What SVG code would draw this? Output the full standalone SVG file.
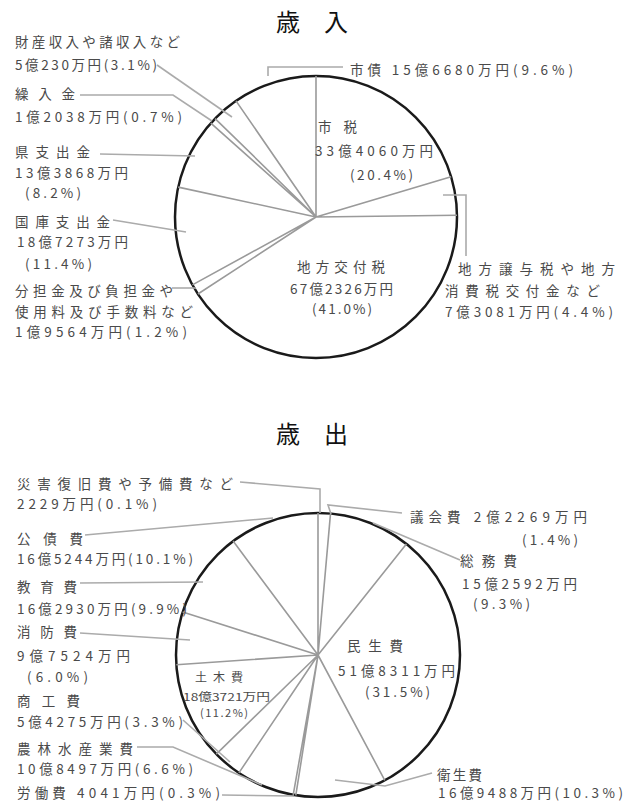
<svg xmlns="http://www.w3.org/2000/svg" width="631" height="803" viewBox="0 0 631 803">
<style>
.t{font-family:"Noto Sans CJK JP","Noto Sans CJK SC",sans-serif;font-size:13.5px;fill:#4a4a4a;}
.s{font-size:11px;}
.ttl{font-family:"Noto Sans CJK JP","Noto Sans CJK SC",sans-serif;font-size:24px;fill:#111;}
.pie{fill:#fff;stroke:#1a1a1a;stroke-width:2.5;}
.rad{stroke:#9a9a9a;stroke-width:1.6;fill:none;}
.ld{stroke:#ababab;stroke-width:1.6;fill:none;}
</style>
<rect width="631" height="803" fill="#fff"/>
<text class="ttl" x="312" y="31" text-anchor="middle">歳　入</text>
<text class="ttl" x="312" y="443" text-anchor="middle">歳　出</text>

<g id="pie-revenue">
<circle class="pie" cx="316" cy="217" r="141"/>
<path class="rad" d="M316 217L316 76M316 217L451.1 176.8M316 217L457 215.2M316 217L197.9 294M316 217L192.4 284.9M316 217L178.2 187.1M316 217L210.8 123.1M316 217L215.1 118.6M316 217L236 100.9"/>
</g>
<g id="pie-expenditure">
<circle class="pie" cx="318" cy="655" r="142"/>
<path class="rad" d="M318 655L318 513M318 655L330.5 513.6M318 655L406.4 543.9M318 655L384.8 780.3M318 655L295.8 795.3M318 655L293.2 794.8M318 655L238.9 772.9M318 655L216.3 754.1M318 655L176.3 664.8M318 655L182.7 612M318 655L233.1 541.1"/>
</g>

<g id="connectors">
<path class="ld" d="M157 65L232 117"/>
<path class="ld" d="M80 95L173 95L212 121"/>
<path class="ld" d="M100 154L195 156"/>
<path class="ld" d="M113 220L186 232"/>
<path class="ld" d="M172 288L196 288"/>
<path class="ld" d="M343 67L268 67L268 76"/>
<path class="ld" d="M443 195L466 195L466 256"/>
<path class="ld" d="M240 482L320 489L320 513"/>
<path class="ld" d="M85 535L273 518"/>
<path class="ld" d="M80 583L203 582"/>
<path class="ld" d="M80 633L190 640"/>
<path class="ld" d="M183 720L230 762"/>
<path class="ld" d="M137 747L173 747L262 785"/>
<path class="ld" d="M222 795L294 796"/>
<path class="ld" d="M432 773L385 786L335 780"/>
<path class="ld" d="M402 513L328 505L331 514"/>
<path class="ld" d="M460 560L373 523"/>
</g>

<g id="rev-zaisan"><text class="t" x="15" y="47" textLength="165" lengthAdjust="spacing">財産収入や諸収入など</text><text class="t" x="15" y="70" textLength="142" lengthAdjust="spacing">5億230万円(3.1%)</text></g>
<g id="rev-kurireru"><text class="t" x="15" y="99" textLength="60" lengthAdjust="spacing">繰入金</text><text class="t" x="15" y="122" textLength="167" lengthAdjust="spacing">1億2038万円(0.7%)</text></g>
<g id="rev-ken"><text class="t" x="15" y="157" textLength="75" lengthAdjust="spacing">県支出金</text><text class="t" x="15" y="178" textLength="113" lengthAdjust="spacing">13億3868万円</text><text class="t" x="25" y="198" textLength="56" lengthAdjust="spacing">(8.2%)</text></g>
<g id="rev-kokko"><text class="t" x="15" y="227" textLength="95" lengthAdjust="spacing">国庫支出金</text><text class="t" x="17" y="247" textLength="111" lengthAdjust="spacing">18億7273万円</text><text class="t" x="25" y="269" textLength="67" lengthAdjust="spacing">(11.4%)</text></g>
<g id="rev-buntan"><text class="t" x="15" y="296" textLength="158" lengthAdjust="spacing">分担金及び負担金や</text><text class="t" x="15" y="317" textLength="178" lengthAdjust="spacing">使用料及び手数料など</text><text class="t" x="15" y="337" textLength="172" lengthAdjust="spacing">1億9564万円(1.2%)</text></g>
<g id="rev-shisai"><text class="t" x="350" y="75" textLength="223" lengthAdjust="spacing">市債 15億6680万円(9.6%)</text></g>
<g id="rev-shizei"><text class="t" x="318" y="132" textLength="39" lengthAdjust="spacing">市税</text><text class="t" x="315" y="156" textLength="118" lengthAdjust="spacing">33億4060万円</text><text class="t" x="350" y="180" textLength="63" lengthAdjust="spacing">(20.4%)</text></g>
<g id="rev-kofuzei"><text class="t" x="297" y="272" textLength="88" lengthAdjust="spacing">地方交付税</text><text class="t" x="290" y="294" textLength="103" lengthAdjust="spacing">67億2326万円</text><text class="t" x="312" y="314" textLength="60" lengthAdjust="spacing">(41.0%)</text></g>
<g id="rev-joyozei"><text class="t" x="458" y="274" textLength="157" lengthAdjust="spacing">地方譲与税や地方</text><text class="t" x="445" y="296" textLength="155" lengthAdjust="spacing">消費税交付金など</text><text class="t" x="445" y="317" textLength="168" lengthAdjust="spacing">7億3081万円(4.4%)</text></g>

<g id="exp-saigai"><text class="t" x="17" y="489" textLength="216" lengthAdjust="spacing">災害復旧費や予備費など</text><text class="t" x="17" y="509" textLength="140" lengthAdjust="spacing">2229万円(0.1%)</text></g>
<g id="exp-kosai"><text class="t" x="17" y="544" textLength="66" lengthAdjust="spacing">公債費</text><text class="t" x="17" y="564" textLength="176" lengthAdjust="spacing">16億5244万円(10.1%)</text></g>
<g id="exp-kyoiku"><text class="t" x="17" y="592" textLength="60" lengthAdjust="spacing">教育費</text><text class="t" x="17" y="614" textLength="170" lengthAdjust="spacing">16億2930万円(9.9%)</text></g>
<g id="exp-shobo"><text class="t" x="17" y="637" textLength="60" lengthAdjust="spacing">消防費</text><text class="t" x="17" y="661" textLength="113" lengthAdjust="spacing">9億7524万円</text><text class="t" x="27" y="682" textLength="61" lengthAdjust="spacing">(6.0%)</text></g>
<g id="exp-shoko"><text class="t" x="17" y="706" textLength="63" lengthAdjust="spacing">商工費</text><text class="t" x="17" y="727" textLength="166" lengthAdjust="spacing">5億4275万円(3.3%)</text></g>
<g id="exp-norin"><text class="t" x="17" y="754" textLength="116" lengthAdjust="spacing">農林水産業費</text><text class="t" x="17" y="774" textLength="176" lengthAdjust="spacing">10億8497万円(6.6%)</text></g>
<g id="exp-rodo"><text class="t" x="17" y="798" textLength="203" lengthAdjust="spacing">労働費 4041万円(0.3%)</text></g>
<g id="exp-gikai"><text class="t" x="410" y="522" textLength="177" lengthAdjust="spacing">議会費 2億2269万円</text><text class="t" x="522" y="545" textLength="56" lengthAdjust="spacing">(1.4%)</text></g>
<g id="exp-somu"><text class="t" x="460" y="566" textLength="57" lengthAdjust="spacing">総務費</text><text class="t" x="462" y="589" textLength="115" lengthAdjust="spacing">15億2592万円</text><text class="t" x="473" y="609" textLength="57" lengthAdjust="spacing">(9.3%)</text></g>
<g id="exp-minsei"><text class="t" x="347" y="651" textLength="56" lengthAdjust="spacing">民生費</text><text class="t" x="338" y="676" textLength="117" lengthAdjust="spacing">51億8311万円</text><text class="t" x="365" y="697" textLength="65" lengthAdjust="spacing">(31.5%)</text></g>
<g id="exp-doboku"><text class="t s" x="195" y="682" textLength="48" lengthAdjust="spacing" style="font-size:12px">土木費</text><text class="t s" x="183" y="701" textLength="87" lengthAdjust="spacingAndGlyphs">18億3721万円</text><text class="t s" x="200" y="717" textLength="48" lengthAdjust="spacing">(11.2%)</text></g>
<g id="exp-eisei"><text class="t" x="437" y="780" textLength="45" lengthAdjust="spacing">衛生費</text><text class="t" x="438" y="798" textLength="185" lengthAdjust="spacing">16億9488万円(10.3%)</text></g>
</svg>
